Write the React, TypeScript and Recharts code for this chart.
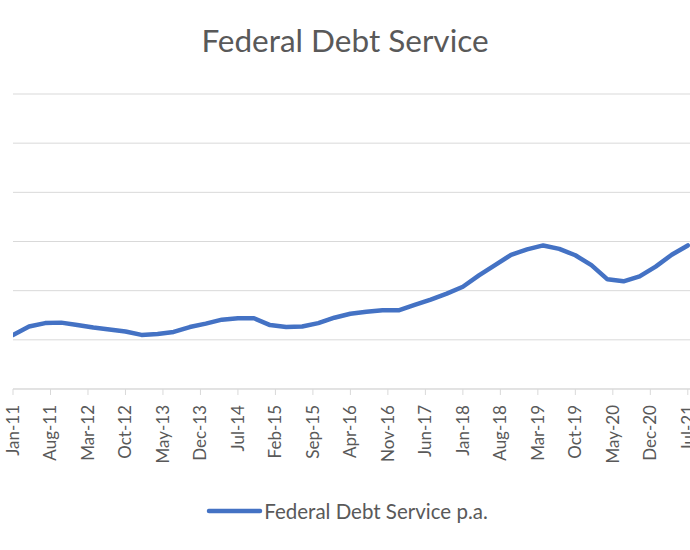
import React from 'react';
import { LineChart, Line, XAxis, YAxis, CartesianGrid, Legend } from 'recharts';

// quarterly observations, Jan-11 .. Jul-21
const QUARTERS = [
  'Jan-11', 'Apr-11', 'Jul-11', 'Oct-11',
  'Jan-12', 'Apr-12', 'Jul-12', 'Oct-12',
  'Jan-13', 'Apr-13', 'Jul-13', 'Oct-13',
  'Jan-14', 'Apr-14', 'Jul-14', 'Oct-14',
  'Jan-15', 'Apr-15', 'Jul-15', 'Oct-15',
  'Jan-16', 'Apr-16', 'Jul-16', 'Oct-16',
  'Jan-17', 'Apr-17', 'Jul-17', 'Oct-17',
  'Jan-18', 'Apr-18', 'Jul-18', 'Oct-18',
  'Jan-19', 'Apr-19', 'Jul-19', 'Oct-19',
  'Jan-20', 'Apr-20', 'Jul-20', 'Oct-20',
  'Jan-21', 'Apr-21', 'Jul-21',
];

const DEBT_SERVICE = [
  1.10, 1.27, 1.34, 1.35,
  1.30, 1.25, 1.21, 1.17,
  1.10, 1.12, 1.16, 1.26,
  1.33, 1.41, 1.44, 1.44,
  1.30, 1.26, 1.27, 1.34,
  1.45, 1.53, 1.57, 1.60,
  1.60, 1.71, 1.82, 1.94,
  2.08, 2.31, 2.52, 2.73,
  2.84, 2.92, 2.85, 2.72,
  2.52, 2.23, 2.19, 2.29,
  2.49, 2.73, 2.92,
];

// axis labels every 7 months
const TICK_LABELS = [
  'Jan-11', 'Aug-11', 'Mar-12', 'Oct-12', 'May-13', 'Dec-13', 'Jul-14',
  'Feb-15', 'Sep-15', 'Apr-16', 'Nov-16', 'Jun-17', 'Jan-18', 'Aug-18',
  'Mar-19', 'Oct-19', 'May-20', 'Dec-20', 'Jul-21',
];

const Y_TICKS = [0, 1, 2, 3, 4, 5, 6];

const MONTHS = ['Jan', 'Feb', 'Mar', 'Apr', 'May', 'Jun', 'Jul', 'Aug', 'Sep', 'Oct', 'Nov', 'Dec'];

// months since Jan-11
const monthIndex = (label: string) => {
  const [mon, yy] = label.split('-');
  return (Number(yy) - 11) * 12 + MONTHS.indexOf(mon);
};

const data = QUARTERS.map((q, i) => ({ m: monthIndex(q), value: DEBT_SERVICE[i] }));
const tickValues = TICK_LABELS.map(monthIndex);
const labelFor = (m: number) => TICK_LABELS[tickValues.indexOf(m)] ?? '';

const FONT = 'Lato, "Open Sans", sans-serif';
const TEXT = '#595959';
const BLUE = '#4472C4';
const GRID = '#d9d9d9';

const RotatedTick = ({ x, y, payload }: any) => (
  <text
    x={x}
    y={y + 8}
    transform={`rotate(-90, ${x}, ${y + 8})`}
    textAnchor="end"
    dy="0.35em"
    fill={TEXT}
    fontSize={17}
    fontFamily={FONT}
  >
    {labelFor(payload.value)}
  </text>
);

const LegendContent = () => (
  <div style={{ display: 'flex', justifyContent: 'center', alignItems: 'center', paddingLeft: 4 }}>
    <svg width={58} height={10}>
      <line x1={3} y1={5} x2={54} y2={5} stroke={BLUE} strokeWidth={4.5} strokeLinecap="round" />
    </svg>
    <span style={{ fontFamily: FONT, fontSize: 20.5, color: TEXT, lineHeight: 1 }}>Federal Debt Service p.a.</span>
  </div>
);

export default function App() {
  return (
    <div style={{ position: 'absolute', left: 0, top: 0, width: 690, height: 550, overflow: 'hidden', background: '#fff' }}>
      <div
        style={{
          position: 'absolute',
          top: 25,
          left: 0,
          width: 690,
          textAlign: 'center',
          fontFamily: FONT,
          fontSize: 31.5,
          lineHeight: 1,
          color: TEXT,
          zIndex: 1,
        }}
      >
        Federal Debt Service
      </div>
      <LineChart width={760} height={550} data={data} margin={{ top: 94, right: 24, left: 13, bottom: 11 }}>
        <CartesianGrid vertical={false} stroke={GRID} />
        <XAxis
          dataKey="m"
          type="number"
          domain={[0, 135]}
          ticks={tickValues}
          interval={0}
          height={100}
          axisLine={{ stroke: GRID }}
          tickLine={{ stroke: GRID }}
          tickSize={6}
          tick={<RotatedTick />}
          allowDataOverflow
        />
        <YAxis hide domain={[0, 6]} ticks={Y_TICKS} />
        <Legend
          verticalAlign="bottom"
          height={50}
          content={<LegendContent />}
          wrapperStyle={{ left: 0, width: 690, top: 501 }}
        />
        <Line
          type="linear"
          dataKey="value"
          name="Federal Debt Service p.a."
          stroke={BLUE}
          strokeWidth={4.5}
          strokeLinecap="round"
          strokeLinejoin="round"
          dot={false}
          activeDot={false}
          isAnimationActive={false}
        />
      </LineChart>
    </div>
  );
}
